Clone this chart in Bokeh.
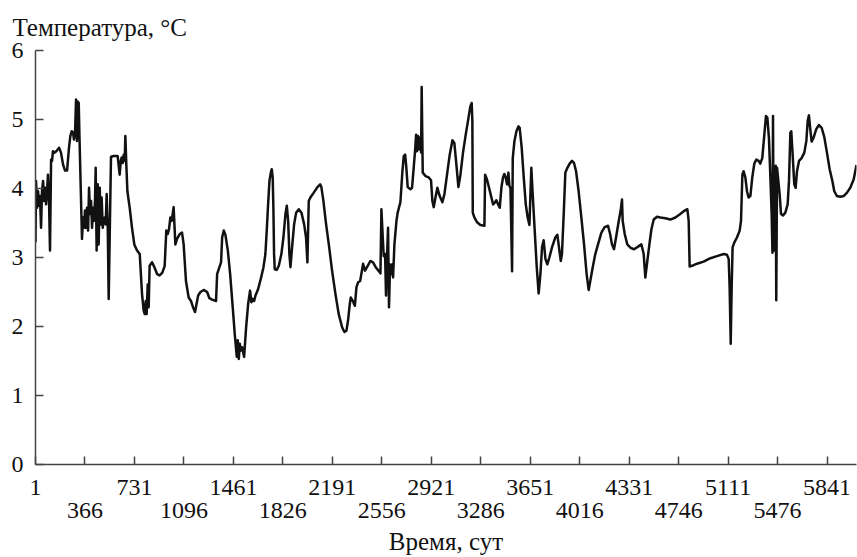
from bokeh.plotting import figure
from bokeh.models import Range1d, FixedTicker, LinearAxis, Title
from bokeh.embed import file_html
from bokeh.resources import INLINE

# Time, days
days = [1, 5, 12, 20, 27, 34, 42, 49, 57, 64, 71, 79, 86, 93, 101, 108, 116, 123, 130, 140,
        155, 175, 189, 204, 219, 234, 248, 258, 268, 278, 285, 293, 300, 307, 312, 320, 325,
        344, 352, 359, 366, 374, 381, 389, 396, 403, 411, 418, 425, 433, 440, 445, 452, 460,
        467, 475, 482, 489, 497, 504, 511, 519, 526, 534, 541, 558, 578, 607, 622, 630, 637,
        644, 652, 659, 664, 671, 679, 696, 713, 730, 750, 770, 787, 799, 807, 814, 821, 829,
        836, 843, 861, 878, 898, 917, 937, 954, 966, 976, 986, 996, 1006, 1020, 1033, 1045,
        1065, 1082, 1094, 1111, 1131, 1148, 1163, 1178,
        1201, 1218, 1242, 1267, 1284, 1304, 1333, 1341, 1358, 1370, 1378, 1390, 1402, 1420,
        1437, 1456, 1471, 1486, 1493, 1501, 1508, 1515, 1525, 1540, 1555, 1570, 1584, 1594,
        1604, 1614, 1624, 1643, 1663, 1683, 1697, 1707, 1717, 1727, 1737, 1744, 1751, 1756,
        1761, 1766, 1781, 1796, 1815, 1830, 1845, 1855, 1865, 1874, 1882, 1894, 1909, 1924,
        1943, 1963, 1983, 1997, 2007, 2017, 2029, 2054, 2081, 2101, 2110, 2125, 2145, 2165,
        2189, 2214, 2238, 2263, 2280, 2295, 2307, 2320, 2327, 2342, 2357, 2369, 2381, 2396,
        2418, 2432, 2452, 2472, 2491, 2511, 2531, 2546, 2553, 2563, 2570, 2580, 2587, 2595,
        2602, 2609, 2617, 2624, 2632, 2639, 2649, 2664, 2673, 2693, 2708, 2718, 2728, 2737,
        2747, 2767, 2779, 2791, 2801, 2809, 2816, 2823, 2831, 2838, 2846, 2850, 2858, 2878,
        2902, 2919, 2929, 2939, 2954, 2966, 2983, 3003, 3018, 3037, 3057, 3077, 3091, 3106,
        3121, 3136, 3155, 3175, 3195, 3209, 3219, 3224, 3227, 3239, 3259, 3283, 3313, 3318,
        3332, 3347, 3362, 3377, 3391, 3401, 3416, 3426, 3438, 3450, 3460, 3470, 3480, 3490,
        3497, 3505, 3517, 3522, 3534, 3549, 3564, 3573, 3588, 3603, 3618, 3632, 3645,
        3659, 3669, 3684, 3699, 3713, 3726, 3738, 3750, 3763, 3777, 3792, 3812, 3836, 3851,
        3863, 3876, 3885, 3898, 3910, 3925, 3942, 3959, 3974, 3989, 4008, 4028, 4048, 4067,
        4082, 4094, 4112, 4131, 4151, 4176, 4200, 4225, 4240, 4254, 4269, 4284, 4304, 4318,
        4328, 4333, 4348, 4367, 4392, 4417, 4441, 4471, 4488, 4500, 4515, 4530, 4545, 4562,
        4586, 4611, 4648, 4685, 4722, 4758, 4790, 4810, 4820, 4827, 4845,
        4881, 4930, 4980, 5029, 5078, 5102, 5115, 5122, 5130, 5137, 5144, 5157, 5176, 5196,
        5206, 5211, 5216, 5225, 5238, 5250, 5262, 5275, 5289, 5304, 5319, 5336, 5348, 5363,
        5378, 5390, 5400, 5412, 5422, 5432, 5438, 5442, 5447, 5462, 5466, 5472, 5491, 5501,
        5516, 5533, 5550, 5560, 5570, 5577, 5584, 5599, 5609, 5619, 5634, 5653, 5673, 5688,
        5698, 5707, 5717, 5727, 5742, 5761, 5781, 5801, 5821, 5840, 5860, 5880, 5894, 5914,
        5939, 5963, 5988, 6012, 6037, 6058]

# Temperature, °C
temps = [3.22, 4.11, 3.72, 3.96, 3.75, 3.89, 3.43, 3.96, 4.11, 3.82, 4.01, 3.77, 3.96, 4.20,
         3.80, 3.10, 4.42, 4.40, 4.54, 4.52, 4.54, 4.59, 4.52, 4.35, 4.26, 4.26, 4.59, 4.76,
         4.83, 4.81, 4.71, 4.83, 5.29, 4.69, 5.26, 5.24, 4.78, 3.27, 3.58, 3.43, 3.68, 3.43,
         3.72, 3.39, 4.01, 3.63, 3.82, 3.43, 3.72, 3.53, 3.82, 4.30, 3.10, 4.06, 3.19, 4.01,
         3.48, 3.87, 3.43, 3.53, 3.58, 3.48, 3.92, 3.43, 2.40, 4.46, 4.47, 4.47, 4.20, 4.40,
         4.45, 4.37, 4.49, 4.40, 4.76, 4.35, 3.96, 3.72, 3.43, 3.19, 3.10, 3.05, 2.47, 2.23,
         2.18, 2.37, 2.18, 2.61, 2.28, 2.88, 2.93, 2.86, 2.76, 2.74, 2.78, 2.88, 3.39, 3.34,
         3.41, 3.58, 3.53, 3.73, 3.19, 3.27, 3.34, 3.36, 3.19, 2.66, 2.42, 2.37, 2.28, 2.21,
         2.45, 2.50, 2.53, 2.50, 2.41, 2.39, 2.37, 2.76, 2.86, 2.93, 3.29, 3.39, 3.33, 3.10,
         2.76, 2.28, 1.89, 1.56, 1.80, 1.53, 1.75, 1.65, 1.70, 1.56, 1.99, 2.33, 2.52, 2.35,
         2.40, 2.37, 2.45, 2.54, 2.69, 2.86, 3.05, 3.39, 3.77, 4.11, 4.23, 4.28, 4.16, 3.72,
         3.05, 2.83, 2.82, 2.88, 3.05, 3.29, 3.63, 3.75, 3.53, 3.05, 2.86, 3.15, 3.48, 3.65,
         3.70, 3.65, 3.48, 3.29, 2.93, 3.82, 3.87, 3.94, 4.02, 4.06, 4.02, 3.82, 3.48, 3.19,
         2.81, 2.47, 2.18, 1.99, 1.92, 1.94, 2.09, 2.33, 2.42, 2.37, 2.30, 2.57, 2.64, 2.66,
         2.91, 2.81, 2.88, 2.95, 2.93, 2.86, 2.81, 2.77, 3.70, 3.29, 3.02, 3.05, 2.45, 3.05,
         3.43, 2.28, 2.90, 2.76, 2.90, 2.71, 3.19, 3.53, 3.65, 3.80, 4.25, 4.47, 4.49, 4.30,
         4.02, 3.99, 4.01, 4.30, 4.54, 4.78, 4.54, 4.76, 4.57, 4.74, 4.52, 5.47, 4.23, 4.18,
         4.16, 4.12, 3.82, 3.73, 3.89, 4.01, 3.89, 3.80, 3.92, 4.20, 4.49, 4.70, 4.66, 4.35,
         4.02, 4.20, 4.52, 4.78, 5.02, 5.19, 5.24, 4.98, 3.65, 3.58, 3.51, 3.47, 3.46, 4.20,
         4.13, 4.01, 3.89, 3.77, 3.80, 3.83, 3.76, 3.72, 4.01, 4.16, 4.21, 4.16, 4.06, 4.23,
         4.04, 4.01, 2.80, 4.44, 4.68, 4.83, 4.90, 4.88, 4.59, 4.16, 3.77, 3.58, 3.47,
         4.30, 3.92, 3.39, 2.86, 2.48, 2.76, 3.15, 3.25, 2.98, 2.90, 3.00, 3.15, 3.29, 3.33,
         3.15, 2.95, 3.05, 3.63, 4.23, 4.30, 4.36, 4.40, 4.37, 4.25, 3.96, 3.58, 3.19, 2.76,
         2.53, 2.66, 2.86, 3.05, 3.19, 3.36, 3.44, 3.46, 3.34, 3.19, 3.12, 3.29, 3.53, 3.68,
         3.84, 3.53, 3.34, 3.19, 3.14, 3.12, 3.15, 3.19, 3.05, 2.71, 2.95, 3.19, 3.41, 3.55,
         3.59, 3.58, 3.57, 3.55, 3.58, 3.63, 3.68, 3.70, 3.53, 2.87, 2.88,
         2.91, 2.94, 2.99, 3.02, 3.05, 3.04, 2.98, 2.57, 1.75, 2.57, 3.15, 3.22, 3.29, 3.39,
         3.53, 3.87, 4.20, 4.25, 4.16, 3.96, 3.87, 3.89, 4.16, 4.36, 4.42, 4.40, 4.36, 4.44,
         4.78, 5.05, 5.03, 4.73, 4.20, 3.63, 3.07, 5.05, 3.10, 4.33, 2.38, 4.30, 3.92, 3.63,
         3.61, 3.65, 3.77, 4.11, 4.81, 4.83, 4.59, 4.06, 4.01, 4.25, 4.40, 4.44, 4.52, 4.69,
         4.98, 5.06, 4.86, 4.68, 4.74, 4.86, 4.92, 4.88, 4.74, 4.52, 4.28, 4.11, 3.96, 3.89,
         3.88, 3.89, 3.94, 4.01, 4.13, 4.34]

x_ticks = [1, 366, 731, 1096, 1461, 1826, 2191, 2556, 2921, 3286, 3651, 4016, 4381,
           4746, 5111, 5476, 5841]
x_labels_upper = ["1", "", "731", "", "1461", "", "2191", "", "2921", "", "3651", "",
                  "4331", "", "5111", "", "5841"]
x_labels_lower = ["", "366", "", "1096", "", "1826", "", "2556", "", "3286", "", "4016",
                  "", "4746", "", "5476", ""]
y_ticks = [0, 1, 2, 3, 4, 5, 6]

FONT = "Liberation Serif"
FS = "24px"
FS_T = "25px"
AX = "#444444"
TXT = "#111111"

p = figure(width=857, height=557, output_backend="svg", toolbar_location=None,
           x_range=Range1d(1, 6058), y_range=Range1d(0, 6),
           min_border_left=35, min_border_right=1, min_border_top=50,
           min_border_bottom=93)
p.outline_line_color = None
p.xgrid.grid_line_color = None
p.ygrid.grid_line_color = None
p.background_fill_color = "white"

p.line(days, temps, line_width=2.5, line_color=TXT, line_join="round")

ya = p.yaxis[0]
ya.ticker = FixedTicker(ticks=y_ticks)
ya.major_tick_in = 8
ya.major_tick_out = 0
ya.minor_tick_line_color = None
ya.axis_line_color = AX
ya.axis_line_width = 1.5
ya.major_tick_line_color = AX
ya.major_tick_line_width = 1.5
ya.major_label_standoff = 12
ya.major_label_text_font = FONT
ya.major_label_text_font_size = FS
ya.major_label_text_color = TXT

xa = p.xaxis[0]
xa.ticker = FixedTicker(ticks=x_ticks)
xa.major_label_overrides = {t: s for t, s in zip(x_ticks, x_labels_upper)}
xa.major_tick_in = 8
xa.major_tick_out = 0
xa.minor_tick_line_color = None
xa.axis_line_color = AX
xa.axis_line_width = 1.5
xa.major_tick_line_color = AX
xa.major_tick_line_width = 1.5
xa.major_label_standoff = 15
xa.major_label_text_font = FONT
xa.major_label_text_font_size = FS
xa.major_label_text_color = TXT

xa2 = LinearAxis(ticker=FixedTicker(ticks=x_ticks),
                 major_label_overrides={t: s for t, s in zip(x_ticks, x_labels_lower)},
                 axis_line_color=None, major_tick_line_color=None,
                 minor_tick_line_color=None, major_tick_in=0, major_tick_out=0,
                 major_label_standoff=5,
                 major_label_text_font=FONT, major_label_text_font_size=FS,
                 major_label_text_color=TXT,
                 axis_label="Время, сут", axis_label_standoff=7,
                 axis_label_text_font=FONT, axis_label_text_font_size=FS_T,
                 axis_label_text_font_style="normal", axis_label_text_color=TXT)
p.add_layout(xa2, "below")

p.add_layout(Title(text="Температура, °C", align="left", offset=-23, standoff=20,
                   text_font=FONT, text_font_size=FS_T, text_font_style="normal",
                   text_color=TXT), "above")

open("out.html", "w").write(file_html(p, INLINE))
